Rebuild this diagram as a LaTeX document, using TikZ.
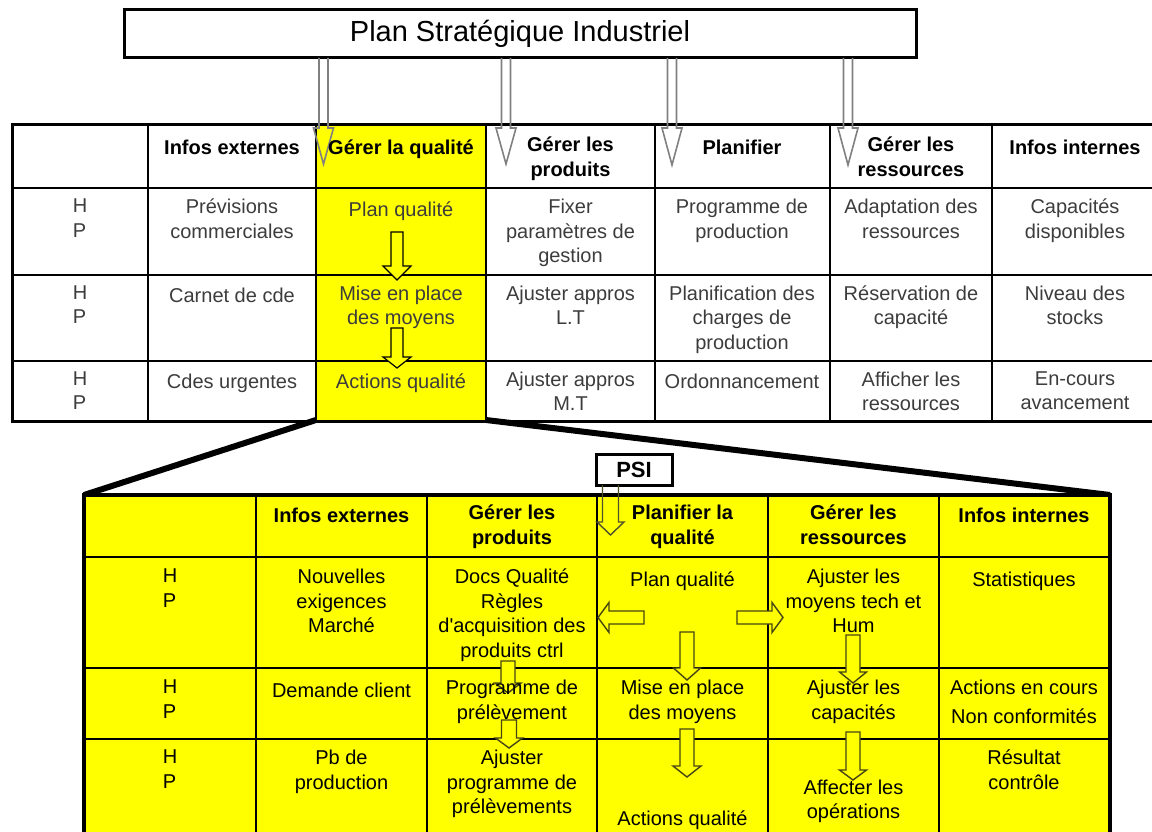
\documentclass[tikz,border=0pt]{standalone}
\usepackage{fontspec}
\setmainfont{Liberation Sans}
\usetikzlibrary{calc}

\definecolor{qyellow}{RGB}{255,255,0}
\definecolor{shaftgray}{RGB}{128,128,128}
\definecolor{arrowolive}{RGB}{70,70,20}
\definecolor{bodygray}{RGB}{60,60,60}

% open-topped down arrow: style, x, ytop, yhead, ytip, half shaft, half head
\newcommand\opendown[7]{%
  \draw[#1] (#2-#6,#3) -- (#2-#6,#4) -- (#2-#7,#4) -- (#2,#5) -- (#2+#7,#4) -- (#2+#6,#4) -- (#2+#6,#3);}
% closed down arrow: style, x, ytop, yhead, ytip, half shaft, half head
\newcommand\blockdown[7]{%
  \draw[#1] (#2-#6,#3) -- (#2-#6,#4) -- (#2-#7,#4) -- (#2,#5) -- (#2+#7,#4) -- (#2+#6,#4) -- (#2+#6,#3) -- cycle;}
% closed horizontal arrow: style, ymid, xtail, xhead, xtip, half shaft, half head
\newcommand\blockside[7]{%
  \draw[#1] (#3,#2-#6) -- (#4,#2-#6) -- (#4,#2-#7) -- (#5,#2) -- (#4,#2+#7) -- (#4,#2+#6) -- (#3,#2+#6) -- cycle;}

% cell texts are placed by the baseline of their first line
\tikzset{
  txt/.style={font=\fontsize{20}{24.5}\selectfont, align=center, inner sep=0pt,
              anchor=north, yshift=17.15pt, execute at begin node=\strut},
  hd/.style={txt, font=\fontsize{20}{24.5}\selectfont\bfseries},
  bodytop/.style={txt, text=bodygray, yshift=-1.5pt},
  bodylow/.style={txt, text=black, yshift=-1.5pt},
  grid/.style={line width=2pt, draw=black},
  topshaft/.style={line width=1.6pt, draw=shaftgray},
  colarrow/.style={line width=1.2pt, draw=black, fill=qyellow},
  lowarrow/.style={line width=1.4pt, draw=arrowolive, fill=qyellow},
  psishaft/.style={line width=1.4pt, draw=arrowolive!80!gray},
  callout/.style={line width=6pt, draw=black},
}

\begin{document}
\begin{tikzpicture}[x=1pt,y=-1pt]
\useasboundingbox (0,0) rectangle (1152,832);

% ---------- strategic plan ----------
\node[draw, line width=3pt, minimum width=792pt, minimum height=48pt, inner sep=0pt,
      font=\fontsize{29}{34}\selectfont] (title) at (520,34) {Plan Stratégique Industriel};

% ---------- upper table ----------
\fill[qyellow] (316,125) rectangle (486,420);
\draw[line width=3pt] (12,125) rectangle (1170,421);
\foreach \xx in {148,316,486,655,830,992} \draw[grid] (\xx,125) -- (\xx,421);
\foreach \yy in {188,275,361} \draw[grid] (12,\yy) -- (1170,\yy);

% arrows from the strategic plan
\opendown{topshaft}{323.5}{58}{128}{164}{4.5}{10}
\opendown{topshaft}{506}{58}{128}{164}{4.5}{10}
\opendown{topshaft}{672}{58}{128}{165}{4.5}{10}
\opendown{topshaft}{848}{58}{128}{165}{4.5}{10}

% arrows inside the quality column
\blockdown{colarrow}{397}{232}{266}{280}{6}{14}
\blockdown{colarrow}{397}{328}{357}{368}{6}{14}

% ---------- zoom lines ----------
\draw[callout] (316,420) -- (84,495);
\draw[callout] (486,420) -- (1110,495);

% ---------- lower table ----------
\fill[qyellow] (84,495) rectangle (1110,845);
\draw[line width=4pt] (84,845) -- (84,495) -- (1110,495) -- (1110,845);
\foreach \xx in {256,427,597,768,939} \draw[grid] (\xx,495) -- (\xx,845);
\foreach \yy in {557,668,739} \draw[grid] (84,\yy) -- (1110,\yy);

% PSI box and its arrow
\node[draw, line width=3pt, minimum width=76pt, minimum height=31pt, inner sep=0pt,
      fill=white, font=\fontsize{22}{26}\selectfont\bfseries] (psi) at (634,469.5) {PSI};
\opendown{psishaft}{610.5}{485}{522}{535}{8}{13.5}

% arrows inside the lower table
\blockside{lowarrow}{617.5}{644}{609}{598}{6.5}{15}
\blockside{lowarrow}{617.5}{737}{772}{783}{6.5}{15}
\blockdown{lowarrow}{687}{632}{668}{680}{7}{13.5}
\blockdown{lowarrow}{687}{729}{766}{777}{7}{14}
\blockdown{lowarrow}{853}{635}{672}{683}{7}{13.5}
\blockdown{lowarrow}{853}{732}{770}{780}{7}{13.5}
\blockdown{lowarrow}{508}{661}{683}{693}{7}{13}
\blockdown{lowarrow}{509}{720}{738}{748}{7.5}{13.5}

% ---------- upper table texts ----------
\node[hd] (uh1) at (232,154) {Infos externes};
\node[hd] (uh2) at (401,154) {Gérer la qualité};
\node[hd] (uh3) at (570.5,154) {Gérer les\\produits};
\node[hd] (uh4) at (742,154) {Planifier};
\node[hd] (uh5) at (911,154) {Gérer les\\ressources};
\node[hd] (uh6) at (1075,154) {Infos internes};

\node[bodytop, align=left] (uhp1) at (80,214.5) {H\\P};
\node[bodytop] (u11) at (232,214.5) {Prévisions\\commerciales};
\node[bodytop] (u12) at (401,214.5) {Plan qualité};
\node[bodytop] (u13) at (570.5,214.5) {Fixer\\paramètres de\\gestion};
\node[bodytop] (u14) at (742,214.5) {Programme de\\production};
\node[bodytop] (u15) at (911,214.5) {Adaptation des\\ressources};
\node[bodytop] (u16) at (1075,214.5) {Capacités\\disponibles};

\node[bodytop, align=left] (uhp2) at (80,301) {H\\P};
\node[bodytop] (u21) at (232,301) {Carnet de cde};
\node[bodytop] (u22) at (401,301) {Mise en place\\des moyens};
\node[bodytop] (u23) at (570.5,301) {Ajuster appros\\L.T};
\node[bodytop] (u24) at (742,301) {Planification des\\charges de\\production};
\node[bodytop] (u25) at (911,301) {Réservation de\\capacité};
\node[bodytop] (u26) at (1075,301) {Niveau des\\stocks};

\node[bodytop, align=left] (uhp3) at (80,387) {H\\P};
\node[bodytop] (u31) at (232,387) {Cdes urgentes};
\node[bodytop] (u32) at (401,387) {Actions qualité};
\node[bodytop] (u33) at (570.5,387) {Ajuster appros\\M.T};
\node[bodytop] (u34) at (742,387) {Ordonnancement};
\node[bodytop] (u35) at (911,387) {Afficher les\\ressources};
\node[bodytop] (u36) at (1075,387) {En-cours\\avancement};

% ---------- lower table texts ----------
\node[hd] (lh1) at (341.5,522) {Infos externes};
\node[hd] (lh2) at (512,522) {Gérer les\\produits};
\node[hd] (lh3) at (682.5,522) {Planifier la\\qualité};
\node[hd] (lh4) at (853.5,522) {Gérer les\\ressources};
\node[hd] (lh5) at (1024,522) {Infos internes};

\node[bodylow, align=left] (lhp1) at (170,584.5) {H\\P};
\node[bodylow] (l11) at (341.5,584.5) {Nouvelles\\exigences\\Marché};
\node[bodylow] (l12) at (512,584.5) {Docs Qualité\\Règles\\d\textquotesingle acquisition des\\produits ctrl};
\node[bodylow] (l13) at (682.5,584.5) {Plan qualité};
\node[bodylow] (l14) at (853.5,584.5) {Ajuster les\\moyens tech et\\Hum};
\node[bodylow] (l15) at (1024,584.5) {Statistiques};

\node[bodylow, align=left] (lhp2) at (170,695.5) {H\\P};
\node[bodylow] (l21) at (341.5,695.5) {Demande client};
\node[bodylow] (l22) at (512,695.5) {Programme de\\prélèvement};
\node[bodylow] (l23) at (682.5,695.5) {Mise en place\\des moyens};
\node[bodylow] (l24) at (853.5,695.5) {Ajuster les\\capacités};
\node[bodylow] (l25) at (1024,695.5) {Actions en cours\\[4.5pt]Non conformités};

\node[bodylow, align=left] (lhp3) at (170,765.5) {H\\P};
\node[bodylow] (l31) at (341.5,765.5) {Pb de\\production};
\node[bodylow] (l32) at (512,765.5) {Ajuster\\programme de\\prélèvements};
\node[bodylow] (l33) at (682.5,824) {Actions qualité};
\node[bodylow] (l34) at (853.5,795) {Affecter les\\opérations};
\node[bodylow] (l35) at (1024,765.5) {Résultat\\contrôle};
\end{tikzpicture}
\end{document}
